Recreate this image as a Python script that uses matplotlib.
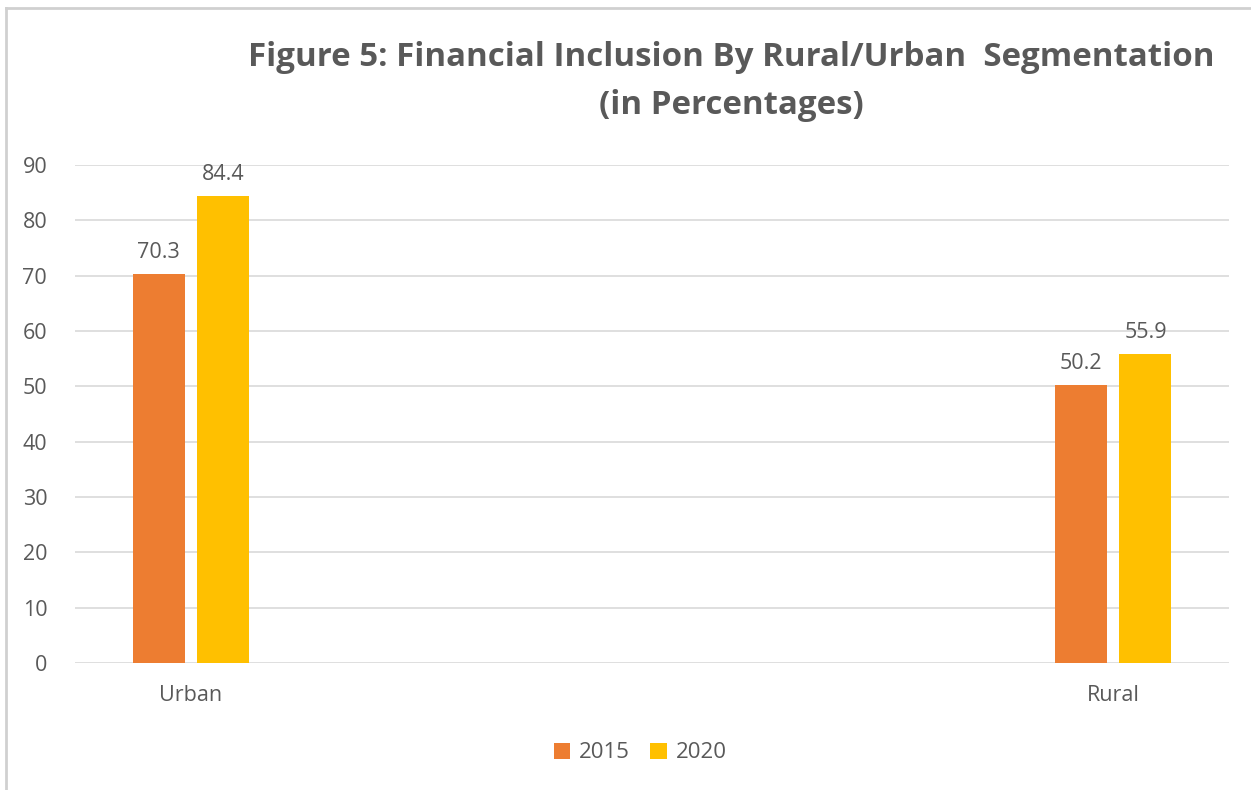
import numpy as np
import matplotlib.pyplot as plt
from matplotlib.lines import Line2D

categories = ['Urban', 'Rural']
years = ['2015', '2020']
values_2015 = [70.3, 50.2]
values_2020 = [84.4, 55.9]
yticks = [0, 10, 20, 30, 40, 50, 60, 70, 80, 90]

orange = '#ED7D31'
yellow = '#FFC000'
grey_txt = '#595959'

W, H = 1251, 790
fig = plt.figure(figsize=(W / 100, H / 100), dpi=100)

# chart frame (only top and left edges visible in the reference)
fig.add_artist(Line2D([6 / W, 1], [1 - 8 / H, 1 - 8 / H], color='#D0D0D0', lw=2))
fig.add_artist(Line2D([6 / W, 6 / W], [0, 1 - 8 / H], color='#D0D0D0', lw=2))

ax = fig.add_axes([75 / W, 1 - 663 / H, (1229 - 75) / W, (663 - 165) / H])

x = np.arange(len(categories))
bw = 0.0564
off = 0.0352
b1 = ax.bar(x - off, values_2015, bw, color=orange, label=years[0], zorder=3)
b2 = ax.bar(x + off, values_2020, bw, color=yellow, label=years[1], zorder=3)

for bars, vals in ((b1, values_2015), (b2, values_2020)):
    for r, v in zip(bars, vals):
        ax.annotate('%.1f' % v, (r.get_x() + r.get_width() / 2, v),
                    xytext=(0, 8), textcoords='offset points',
                    ha='center', va='bottom', fontsize=15.5,
                    color=grey_txt, family='Open Sans')

ax.set_xlim(-0.1258, 1.1258)
ax.set_ylim(0, 90)
ax.set_yticks(yticks)
ax.set_xticks(x)
ax.set_xticklabels(categories)
ax.yaxis.grid(True, color='#D9D9D9', lw=1.2, zorder=0)
ax.set_axisbelow(True)
for s in ax.spines.values():
    s.set_visible(False)
ax.tick_params(length=0, labelsize=15.5, labelcolor=grey_txt, pad=20)
ax.tick_params(axis='x', pad=16)
for lab in ax.get_xticklabels() + ax.get_yticklabels():
    lab.set_family('Open Sans')

fig.text(731 / W, 1 - 58 / H, 'Figure 5: Financial Inclusion By Rural/Urban  Segmentation',
         ha='center', va='center', fontsize=23.8, fontweight='bold',
         color=grey_txt, family='Open Sans')
fig.text(731 / W, 1 - 105 / H, '(in Percentages)',
         ha='center', va='center', fontsize=23.8, fontweight='bold',
         color=grey_txt, family='Open Sans')

leg = fig.legend(handles=[b1, b2], loc='center', bbox_to_anchor=(640 / W, 1 - 753 / H),
                 ncol=2, frameon=False, handlelength=0.75, handleheight=0.75,
                 handletextpad=0.4, columnspacing=0.9, prop={'family': 'Open Sans', 'size': 16})
for t in leg.get_texts():
    t.set_color(grey_txt)

fig.savefig('out.png', dpi=100)
